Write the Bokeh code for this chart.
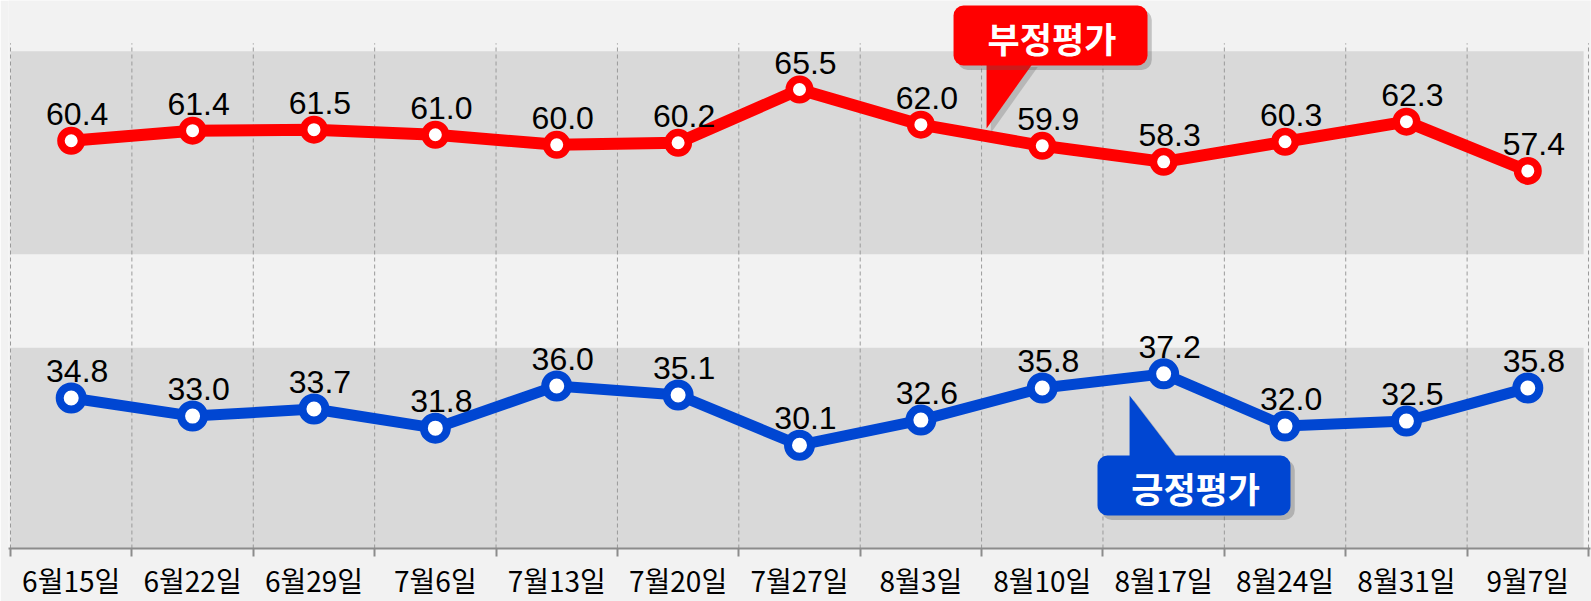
from bokeh.plotting import figure
from bokeh.models import FixedTicker, BoxAnnotation, Range1d, Label
from bokeh.core.properties import value
from bokeh.embed import file_html
from bokeh.resources import INLINE

# ---- data ----
dates = ["6월15일", "6월22일", "6월29일", "7월6일", "7월13일", "7월20일", "7월27일",
         "8월3일", "8월10일", "8월17일", "8월24일", "8월31일", "9월7일"]
negative = [60.4, 61.4, 61.5, 61.0, 60.0, 60.2, 65.5, 62.0, 59.9, 58.3, 60.3, 62.3, 57.4]
positive = [34.8, 33.0, 33.7, 31.8, 36.0, 35.1, 30.1, 32.6, 35.8, 37.2, 32.0, 32.5, 35.8]
series_names = ["부정평가", "긍정평가"]

RED = "#ff0000"
BLUE = "#0046d2"
FONT_NUM = "Liberation Sans"
FONT_KR = "Noto Sans CJK KR"

idx = list(range(len(dates)))
bounds = [i - 0.5 for i in range(len(dates) + 1)]
Y0, Y1 = 19.82, 74.36

p = figure(frame_width=1582, frame_height=548, output_backend="svg", toolbar_location=None,
           x_range=Range1d(-0.5165, 12.5165), y_range=Range1d(Y0, Y1),
           y_axis_location=None,
           min_border_left=8, min_border_right=1, min_border_top=0, min_border_bottom=0)
p.background_fill_color = "#f2f2f2"
p.border_fill_color = "#f2f2f2"
p.outline_line_color = None
p.xgrid.visible = False
p.ygrid.visible = False

# background bands
p.quad(left=-0.5, right=12.46, bottom=[Y0, 49.1], top=[39.8, 69.3],
       fill_color="#d9d9d9", line_color=None)

# vertical dashed separators
p.segment(x0=bounds, y0=Y0, x1=bounds, y1=70.1, line_color="#9a9a9a",
          line_dash="4 3", line_width=1)

# series
for vals, col, sz, lw, w in [(negative, RED, 20.5, 7.5, 12), (positive, BLUE, 23, 8, 11)]:
    p.line(idx, vals, line_color=col, line_width=w)
    p.scatter(idx, vals, size=sz, fill_color="white", line_color=col, line_width=lw)
    p.text(idx, vals, text=[f"{v:.1f}" for v in vals], x_offset=6, y_offset=-27,
           text_align="center", text_baseline="alphabetic",
           text_font=value(FONT_NUM), text_font_size="32px", text_color="black")

# x axis
ax = p.xaxis[0]
ax.ticker = FixedTicker(ticks=idx, minor_ticks=bounds)
ax.major_label_overrides = {i: d for i, d in zip(idx, dates)}
ax.axis_line_color = "#8c8c8c"
ax.axis_line_width = 2
ax.major_tick_line_color = None
ax.major_tick_out = 0
ax.major_tick_in = 0
ax.minor_tick_line_color = "#8c8c8c"
ax.minor_tick_line_width = 2
ax.minor_tick_out = 8
ax.minor_tick_in = 0
ax.major_label_text_font = FONT_KR
ax.major_label_text_font_size = "28px"
ax.major_label_text_color = "black"
ax.major_label_standoff = 3

# callouts
def callout(left, right, bottom, top, tri_x, tri_base, tri_tip, col, text, tx, ty):
    dx, dy = 0.035, -0.45
    p.add_layout(BoxAnnotation(left=left + dx, right=right + dx, bottom=bottom + dy, top=top + dy,
                               fill_color="#555555", fill_alpha=0.3, line_color=None,
                               border_radius=10))
    p.patch([tri_x[0] + dx, tri_x[1] + dx, tri_x[0] + dx],
            [tri_base + dy, tri_base + dy, tri_tip + dy],
            fill_color="#555555", fill_alpha=0.25, line_color=None)
    p.patch([tri_x[0], tri_x[1], tri_x[0]], [tri_base, tri_base, tri_tip],
            fill_color=col, line_color=None)
    p.add_layout(BoxAnnotation(left=left, right=right, bottom=bottom, top=top,
                               fill_color=col, fill_alpha=1, line_color=None,
                               border_radius=10))
    p.add_layout(Label(x=tx, y=ty, text=text, text_align="center", text_baseline="middle",
                       text_color="white", text_font=FONT_KR, text_font_style="bold",
                       text_font_size="35px"))

callout(7.269, 8.867, 67.89, 73.86, (7.541, 7.928), 68.2, 61.62, RED,
        series_names[0], 8.08, 70.71)
callout(8.455, 10.045, 23.11, 29.08, (8.719, 9.114), 28.8, 35.05, BLUE,
        series_names[1], 9.263, 25.89)

open("out.html", "w").write(file_html(p, INLINE))
